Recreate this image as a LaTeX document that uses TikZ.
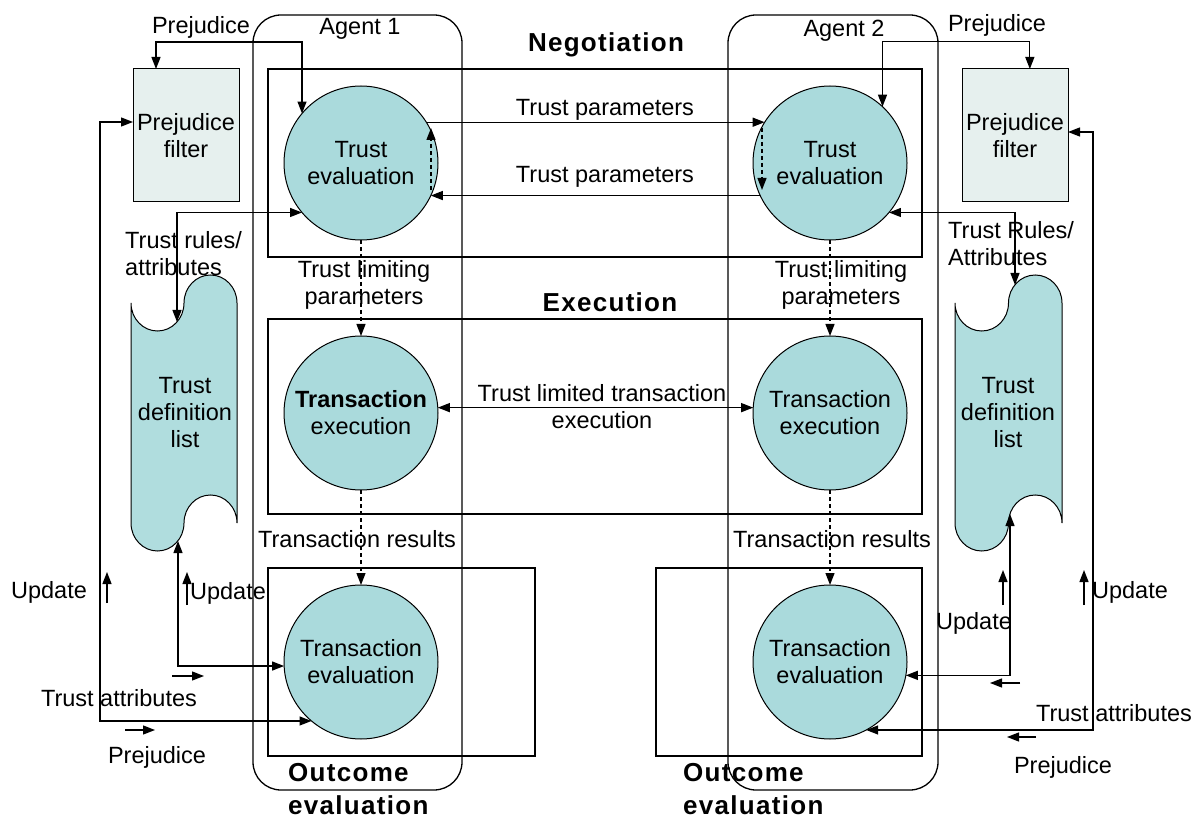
\documentclass[tikz,border=0pt]{standalone}
\usepackage{fontspec}
\setmainfont{Liberation Sans}
\newfontfamily\headfont[LetterSpace=5]{Liberation Sans}
\usetikzlibrary{arrows.meta,calc}
\definecolor{discfill}{RGB}{170,218,220}
\definecolor{tapefill}{RGB}{176,221,222}
\definecolor{filterfill}{RGB}{230,240,238}

\tikzset{
  txt/.style={font=\fontsize{23.5}{27}\selectfont, inner sep=0pt, align=center},
  head/.style={font=\headfont\bfseries\fontsize{26}{33}\selectfont, inner sep=0pt, align=left},
  disc/.style={circle, draw, fill=discfill, minimum size=154pt, inner sep=0pt, outer sep=0pt, txt, line width=1pt},
  filterbox/.style={draw, fill=filterfill, minimum width=106pt, minimum height=133pt, inner sep=0pt, outer sep=0pt, txt, line width=1pt},
  tapebody/.style={draw, fill=tapefill, line width=1pt},
  frame/.style={line width=1.3pt},
  arr/.style={line width=1.3pt, -{Triangle[length=12pt,width=9pt]}},
  arrboth/.style={line width=1.3pt, {Triangle[length=12pt,width=9pt]}-{Triangle[length=12pt,width=9pt]}},
  dasharr/.style={arr, dash pattern=on 4pt off 3pt},
}

\begin{document}
\begin{tikzpicture}[x=1pt,y=1pt]
\useasboundingbox (0,0) rectangle (1203,-818);

% agent frames
\draw[frame, rounded corners=28pt] (253,-15) rectangle (462,-790);
\draw[frame, rounded corners=28pt] (728,-15) rectangle (938,-790);

% phase frames
\draw[frame] (268,-69) rectangle (922,-257);
\draw[frame] (268,-319) rectangle (922,-514);
\draw[frame] (268,-568) rectangle (535,-756);
\draw[frame] (656,-568) rectangle (922,-756);

% headings
\node[txt] (ag1) at (360,-29) {Agent 1};
\node[txt] (ag2) at (844,-31) {Agent 2};
\node[head] (hneg) at (606,-45) {Negotiation};
\node[head] (hexe) at (610,-302) {Execution};
\node[head, anchor=west] (hout1) at (288,-789) {Outcome\\evaluation};
\node[head, anchor=west] (hout2) at (683,-789) {Outcome\\evaluation};

% prejudice filters
\node[filterbox] (pf1) at (186,-135.5) {Prejudice\\filter};
\node[filterbox] (pf2) at (1015,-135.5) {Prejudice\\filter};

% trust definition lists (punched tapes)
\filldraw[tapebody] (131,-303)
  arc[start angle=180, end angle=360, x radius=26.5, y radius=28]
  arc[start angle=180, end angle=0, x radius=26.5, y radius=28]
  -- (237,-523)
  arc[start angle=0, end angle=180, x radius=26.5, y radius=28]
  arc[start angle=0, end angle=-180, x radius=26.5, y radius=28]
  -- cycle;
\filldraw[tapebody] (955,-303)
  arc[start angle=180, end angle=360, x radius=26.75, y radius=28]
  arc[start angle=180, end angle=0, x radius=26.75, y radius=28]
  -- (1062,-523)
  arc[start angle=0, end angle=180, x radius=26.75, y radius=28]
  arc[start angle=0, end angle=-180, x radius=26.75, y radius=28]
  -- cycle;
\node[txt] (tdl1) at (185,-413) {Trust\\definition\\list};
\node[txt] (tdl2) at (1008,-413) {Trust\\definition\\list};
\coordinate (tl1top) at (177,-322);
\coordinate (tl1bot) at (178,-541);
\coordinate (tr1top) at (1015,-285);
\coordinate (tr1bot) at (1010,-514);

% process circles
\node[disc] (te1) at (361,-163) {Trust\\evaluation};
\node[disc] (te2) at (830,-163) {Trust\\evaluation};
\node[disc] (tx1) at (361,-413) {\textbf{Transaction}\\execution};
\node[disc] (tx2) at (830,-413) {Transaction\\execution};
\node[disc] (tev1) at (361,-662) {Transaction\\evaluation};
\node[disc] (tev2) at (830,-662) {Transaction\\evaluation};

% negotiation exchange
\draw[arr] (te1.32) -- (te2.148);
\draw[arr] (te2.205) -- (te1.-25);
\coordinate (d1a) at (431,-190);
\coordinate (d1b) at (431,-128);
\coordinate (d2a) at (762,-128);
\coordinate (d2b) at (762,-190);
\draw[dasharr] (d1a) -- (d1b);
\draw[dasharr] (d2a) -- (d2b);
\node[txt] (tp1) at (605,-110) {Trust parameters};
\node[txt] (tp2) at (605,-177) {Trust parameters};

% phase transitions
\draw[dasharr] (te1.south) -- (tx1.north);
\draw[dasharr] (te2.south) -- (tx2.north);
\draw[dasharr] (tx1.south) -- (tev1.north);
\draw[dasharr] (tx2.south) -- (tev2.north);
\node[txt] (tlp1) at (364,-285) {Trust limiting\\parameters};
\node[txt] (tlp2) at (841,-285) {Trust limiting\\parameters};
\node[txt] (tr1) at (357,-539) {Transaction results};
\node[txt] (tr2) at (832,-539) {Transaction results};

% execution exchange
\draw[arrboth] (tx1.4) -- (tx2.176);
\node[txt] (tlte) at (602,-407) {Trust limited transaction\\execution};

% prejudice links
\draw[arrboth] ($(pf1.north west)!0.217!(pf1.north east)$) -- ++(0,27) -| (te1.140);
\draw[arrboth] (te2.47) -- ++(0,65) -| ($(pf2.north west)!0.64!(pf2.north east)$);
\node[txt] (pj1) at (201,-27) {Prejudice};
\node[txt] (pj2) at (997,-25) {Prejudice};

% trust rules links
\draw[arrboth] (te1.220) -| (tl1top);
\draw[arrboth] (te2.-40) -| (tr1top);
\node[txt, align=left, anchor=west] (trl1) at (125,-254) {Trust rules/\\attributes};
\node[txt, align=left, anchor=west] (trl2) at (948,-244) {Trust Rules/\\Attributes};

% feedback from outcome evaluation
\draw[arrboth] ($(pf1.west)+(0,13.5)$) -- ++(-33,0) |- (tev1.230);
\draw[arrboth] ($(pf2.east)+(0,3.5)$) -- ++(25,0) |- (tev2.-62);
\draw[arrboth] (tl1bot) |- (tev1.183);
\draw[arrboth] (tr1bot) |- (tev2.-10);

% flow hints, left
\coordinate (ul1a) at (107,-603); \coordinate (ul1b) at (107,-572);
\coordinate (ul2a) at (187,-605); \coordinate (ul2b) at (187,-572);
\coordinate (tal1a) at (172,-676); \coordinate (tal1b) at (204,-676);
\coordinate (pl1a) at (125,-730); \coordinate (pl1b) at (155,-730);
\draw[arr] (ul1a) -- (ul1b);
\draw[arr] (ul2a) -- (ul2b);
\draw[arr] (tal1a) -- (tal1b);
\draw[arr] (pl1a) -- (pl1b);
\node[txt] (upl1) at (49,-592) {Update};
\node[txt] (upl2) at (228,-593) {Update};
\node[txt] (tal) at (119,-698) {Trust attributes};
\node[txt] (pjl) at (157,-757) {Prejudice};

% flow hints, right
\coordinate (ur1a) at (1003,-605); \coordinate (ur1b) at (1003,-570);
\coordinate (ur2a) at (1084,-605); \coordinate (ur2b) at (1084,-570);
\coordinate (tar1a) at (1020,-683); \coordinate (tar1b) at (990,-683);
\coordinate (pr1a) at (1036,-737); \coordinate (pr1b) at (1007,-737);
\draw[arr] (ur1a) -- (ur1b);
\draw[arr] (ur2a) -- (ur2b);
\draw[arr] (tar1a) -- (tar1b);
\draw[arr] (pr1a) -- (pr1b);
\node[txt] (upr1) at (974,-623) {Update};
\node[txt] (upr2) at (1130,-592) {Update};
\node[txt] (tar) at (1114,-713) {Trust attributes};
\node[txt] (pjr) at (1063,-767) {Prejudice};

\end{tikzpicture}
\end{document}
